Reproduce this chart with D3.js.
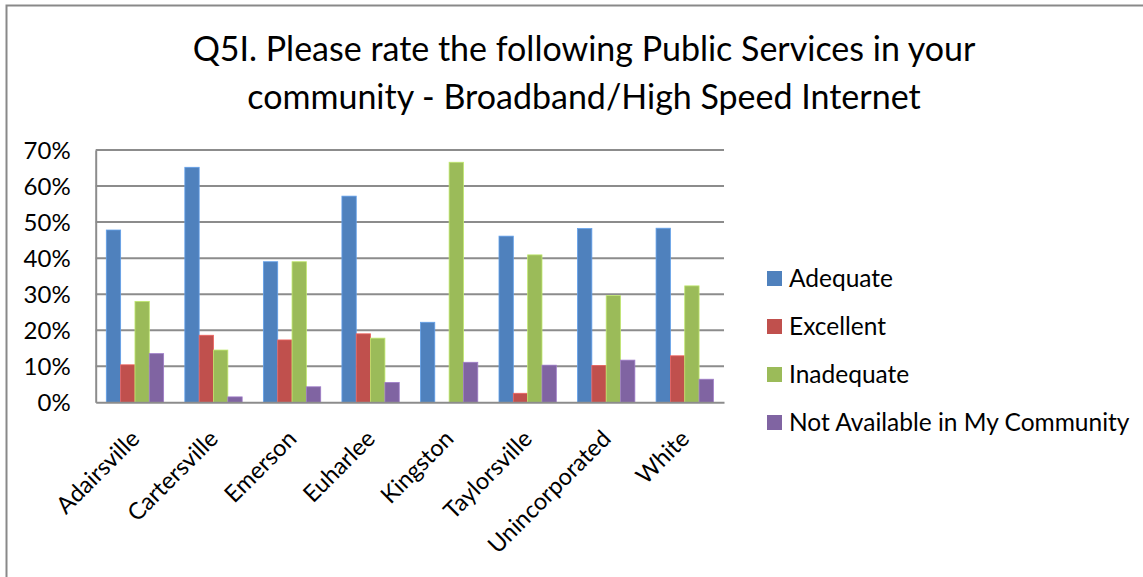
<!DOCTYPE html>
<html>
<head>
<meta charset="utf-8">
<script src="https://cdn.jsdelivr.net/npm/d3@7"></script>
<style>
  html, body { margin: 0; padding: 0; background: #fff; }
  svg { display: block; }
  text { font-family: Lato, "Open Sans", sans-serif; fill: #000; }
</style>
</head>
<body>
<svg id="chart" width="1143" height="577"></svg>
<script>
const categories = ["Adairsville", "Cartersville", "Emerson", "Euharlee", "Kingston", "Taylorsville", "Unincorporated", "White"];
const seriesNames = ["Adequate", "Excellent", "Inadequate", "Not Available in My Community"];
const adequate   = [0.478, 0.652, 0.390, 0.572, 0.222, 0.461, 0.482, 0.483];
const excellent  = [0.104, 0.186, 0.173, 0.190, 0.000, 0.025, 0.102, 0.129];
const inadequate = [0.280, 0.145, 0.390, 0.178, 0.666, 0.409, 0.296, 0.323];
const notAvail   = [0.135, 0.015, 0.043, 0.055, 0.111, 0.103, 0.117, 0.064];
const colors = ["#4F81BD", "#C0504D", "#9BBB59", "#8064A2"];
const yTicks = [0, 0.1, 0.2, 0.3, 0.4, 0.5, 0.6, 0.7];
const titleLines = ["Q5I. Please rate the following Public Services in your", "community - Broadband/High Speed Internet"];

const seriesValues = [adequate, excellent, inadequate, notAvail];

const svg = d3.select("#chart");

// outer frame
svg.append("rect")
  .attr("x", 6.5).attr("y", 5.5)
  .attr("width", 1200).attr("height", 700)
  .attr("fill", "none").attr("stroke", "#898989").attr("stroke-width", 2);

// title
svg.append("g").selectAll("text").data(titleLines).join("text")
  .attr("x", 584).attr("y", (d, i) => 61 + i * 48)
  .attr("text-anchor", "middle")
  .style("font-size", "34px")
  .text(d => d);

const pLeft = 95.7, pRight = 724, pTop = 150, pBottom = 402.3;

const x = d3.scaleBand().domain(categories).range([pLeft, pRight]).paddingInner(0.27).paddingOuter(0.135);
const xs = d3.scaleBand().domain(seriesNames).range([0, x.bandwidth()]);
const y = d3.scaleLinear().domain([0, 0.7]).range([pBottom, pTop]);

// gridlines
svg.append("g").selectAll("line").data(yTicks.slice(1)).join("line")
  .attr("x1", pLeft).attr("x2", pRight)
  .attr("y1", d => y(d)).attr("y2", d => y(d))
  .attr("stroke", "#8C8C8C").attr("stroke-width", 2);

// bars
const g = svg.append("g");
seriesNames.forEach((s, si) => {
  g.append("g").selectAll("rect").data(seriesValues[si]).join("rect")
    .attr("x", (d, i) => x(categories[i]) + xs(s))
    .attr("y", d => y(d))
    .attr("width", xs.bandwidth())
    .attr("height", d => y(0) - y(d))
    .attr("fill", colors[si])
    .attr("stroke", d3.color(colors[si]).brighter(0.6))
    .attr("stroke-width", 0.8)
    .style("display", d => d > 0 ? null : "none");
});

// y axis
const yAxis = d3.axisLeft(y).tickValues(yTicks).tickFormat(d3.format(".0%")).tickSize(0).tickPadding(25);
const ya = svg.append("g").attr("transform", `translate(${pLeft},0)`).call(yAxis);
ya.select(".domain").attr("stroke", "#8C8C8C").attr("stroke-width", 2);
ya.selectAll("text").style("font-size", "24px").attr("dy", "0.35em");

// x axis
const xAxis = d3.axisBottom(x).tickSize(0).tickPadding(0);
const xa = svg.append("g").attr("transform", `translate(0,${pBottom})`).call(xAxis);
xa.select(".domain").attr("stroke", "#8C8C8C").attr("stroke-width", 2);
xa.selectAll("text")
  .style("font-size", "23.5px")
  .attr("text-anchor", "end")
  .attr("y", 0).attr("dy", 0)
  .attr("transform", "translate(6,38) rotate(-45)");

// legend
const legend = svg.append("g");
seriesNames.forEach((s, i) => {
  const ly = 278.5 + i * 48;
  legend.append("rect").attr("x", 767).attr("y", ly - 7.5).attr("width", 15).attr("height", 15).attr("fill", colors[i]);
  legend.append("text").attr("x", 789).attr("y", ly).attr("dy", "0.35em").style("font-size", "24.5px").text(s);
});
</script>
</body>
</html>
